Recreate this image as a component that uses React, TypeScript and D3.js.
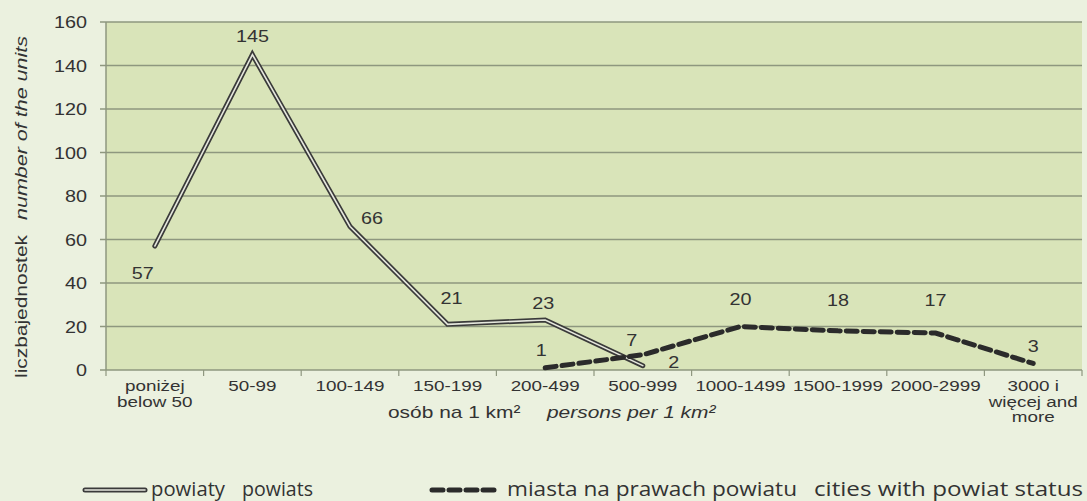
import * as d3 from "d3";
import type { ReactNode } from "react";

const categories = [
  ["poniżej", "below 50"],
  ["50-99"],
  ["100-149"],
  ["150-199"],
  ["200-499"],
  ["500-999"],
  ["1000-1499"],
  ["1500-1999"],
  ["2000-2999"],
  ["3000 i", "więcej and", "more"],
];
const powiaty: (number | null)[] = [57, 145, 66, 21, 23, 2, null, null, null, null];
const miasta: (number | null)[] = [null, null, null, null, 1, 7, 20, 18, 17, 3];
const yTicks = [0, 20, 40, 60, 80, 100, 120, 140, 160];

// label offsets relative to the point (dx, dy)
const powiatyLabelPos = [
  [-12, 27],
  [0, -19],
  [22, -8],
  [4, -26],
  [-2, -17],
  [31, -4],
];
const miastaLabelPos = [
  [-4, -18],
  [-11, -15],
  [0, -28],
  [0, -31],
  [0, -33],
  [0, -17],
];

const W = 1087;
const H = 501;
const margin = { top: 22, right: 5, bottom: 131, left: 106 };
const FONT = "'Liberation Sans', Arial, sans-serif";
const LEGEND_FONT = "'Open Sans', 'Noto Sans', sans-serif";
const SX = 1.2; // the reference text is a little wider than it is tall

function T({
  x,
  y,
  size = 16,
  sx = SX,
  anchor = "middle",
  italic = false,
  children,
}: {
  x: number;
  y: number;
  size?: number;
  sx?: number;
  anchor?: string;
  italic?: boolean;
  children: ReactNode;
}) {
  return (
    <text
      transform={`translate(${x},${y}) scale(${sx},1)`}
      textAnchor={anchor}
      fontFamily={FONT}
      fontSize={size}
      fontStyle={italic ? "italic" : "normal"}
      fill="#333"
    >
      {children}
    </text>
  );
}

export default function App() {
  const innerW = W - margin.left - margin.right;
  const innerH = H - margin.top - margin.bottom;
  const x = d3
    .scaleBand<number>()
    .domain(categories.map((_, i) => i))
    .range([0, innerW]);
  const y = d3.scaleLinear().domain([0, 160]).range([innerH, 0]);
  const cx = (i: number) => x(i)! + x.bandwidth() / 2;

  const line = d3
    .line<number | null>()
    .defined((d) => d !== null)
    .x((_, i) => cx(i))
    .y((d) => y(d as number));

  const grid = "#8e977f";

  return (
    <svg
      width={W}
      height={H}
      style={{ position: "absolute", left: 0, top: 0, background: "#ebf1df" }}
    >
      <rect width={W} height={H} fill="#ebf1df" />
      <g transform={`translate(${margin.left},${margin.top})`}>
        <rect width={innerW} height={innerH} fill="#d9e4b9" />
        {yTicks.map((t) => (
          <g key={t}>
            <line x1={-6} x2={innerW} y1={y(t)} y2={y(t)} stroke={grid} strokeWidth={1.5} />
            <T x={-19} y={y(t) + 6} size={16.5} anchor="end">
              {t}
            </T>
          </g>
        ))}
        <line x1={0} x2={0} y1={0} y2={innerH} stroke={grid} strokeWidth={1.5} />
        {[-1, ...categories.map((_, i) => i)].map((i) => {
          const xx = i < 0 ? 0 : x(i)! + x.bandwidth();
          return (
            <line key={i} x1={xx} x2={xx} y1={innerH} y2={innerH + 6} stroke={grid} strokeWidth={1.2} />
          );
        })}
        {categories.map((lines, i) =>
          lines.map((l, j) => (
            <T key={i + "-" + j} x={cx(i)} y={innerH + 21 + j * 15.5} size={14.5} sx={1.3}>
              {l}
            </T>
          ))
        )}

        {/* powiaty: double line */}
        <path d={line(powiaty) ?? ""} fill="none" stroke="#3a3a3a" strokeWidth={5} strokeLinecap="round" />
        <path d={line(powiaty) ?? ""} fill="none" stroke="#e6e8de" strokeWidth={1.6} strokeLinecap="round" />
        {/* miasta: dashed */}
        <path
          d={line(miasta) ?? ""}
          fill="none"
          stroke="#2b2b2b"
          strokeWidth={5}
          strokeDasharray="11,6"
          strokeLinecap="round"
        />

        {powiaty.map((v, i) =>
          v === null ? null : (
            <T key={"p" + i} x={cx(i) + powiatyLabelPos[i][0]} y={y(v) + powiatyLabelPos[i][1] + 6} size={16.5}>
              {v}
            </T>
          )
        )}
        {miasta.map((v, i) =>
          v === null ? null : (
            <T
              key={"m" + i}
              x={cx(i) + miastaLabelPos[i - 4][0]}
              y={y(v) + miastaLabelPos[i - 4][1] + 6}
              size={16.5}
            >
              {v}
            </T>
          )
        )}
      </g>

      {/* y axis title */}
      <text
        transform="translate(27,378) rotate(-90)"
        fontFamily={FONT}
        fontSize={17}
        fill="#333"
        textLength={143}
        lengthAdjust="spacingAndGlyphs"
      >
        liczbajednostek
      </text>
      <text
        transform="translate(27,220) rotate(-90)"
        fontFamily={FONT}
        fontSize={17}
        fontStyle="italic"
        fill="#333"
        textLength={184}
        lengthAdjust="spacingAndGlyphs"
      >
        number of the units
      </text>

      {/* x axis title */}
      <T x={388} y={418} size={17} sx={1.23} anchor="start">
        osób na 1 km²
      </T>
      <T x={547} y={418} size={17} sx={1.23} anchor="start" italic>
        persons per 1 km²
      </T>

      {/* legend */}
      <g>
        <line x1={85} x2={145} y1={490} y2={490} stroke="#3a3a3a" strokeWidth={5} strokeLinecap="round" />
        <line x1={85} x2={145} y1={490} y2={490} stroke="#e6e8de" strokeWidth={1.6} strokeLinecap="round" />
        <text x={151} y={496} fontFamily={LEGEND_FONT} fontSize={20} fill="#333" textLength={74} lengthAdjust="spacingAndGlyphs">
          powiaty
        </text>
        <text x={242} y={496} fontFamily={LEGEND_FONT} fontSize={20} fill="#333" textLength={71} lengthAdjust="spacingAndGlyphs">
          powiats
        </text>
        <line
          x1={432}
          x2={500}
          y1={490}
          y2={490}
          stroke="#2b2b2b"
          strokeWidth={5}
          strokeDasharray="11,6"
          strokeLinecap="round"
        />
        <text x={507} y={496} fontFamily={LEGEND_FONT} fontSize={20} fill="#333" textLength={290} lengthAdjust="spacingAndGlyphs">
          miasta na prawach powiatu
        </text>
        <text x={814} y={496} fontFamily={LEGEND_FONT} fontSize={20} fill="#333" textLength={269} lengthAdjust="spacingAndGlyphs">
          cities with powiat status
        </text>
      </g>
    </svg>
  );
}
